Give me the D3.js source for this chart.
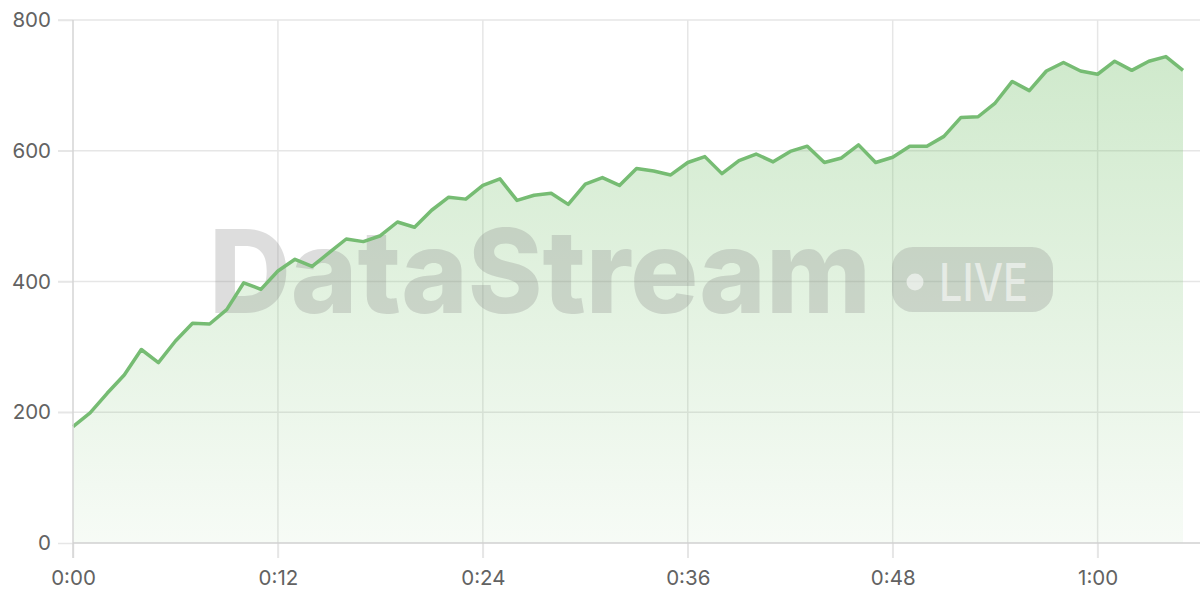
<!DOCTYPE html>
<html>
<head>
<meta charset="utf-8">
<script src="https://cdn.jsdelivr.net/npm/d3@7"></script>
<style>
  html, body { margin: 0; padding: 0; background: #fff; }
  svg { display: block; }
  .axis text { font-family: Inter, "Open Sans", sans-serif; font-size: 20.5px; fill: #626262; }
</style>
</head>
<body>
<div id="chart"></div>
<script>
// minutes since start
const minutes = d3.range(0, 66);
const values = [
  178, 199, 229, 257, 296, 276, 309, 336, 335, 357,
  398, 388, 416, 434, 423, 444, 465, 461, 470, 491,
  483, 509, 529, 526, 547, 557, 524, 532, 535, 518,
  549, 559, 547, 573, 569, 563, 582, 591, 565, 585,
  595, 583, 599, 607, 582, 589, 609, 582, 590, 607,
  607, 622, 651, 652, 673, 706, 692, 722, 735, 722,
  717, 737, 723, 737, 744, 723
];
const xTicks = [0, 12, 24, 36, 48, 60];
const yTicks = [0, 200, 400, 600, 800];

const width = 1200, height = 600;
const axesSpace = { left: 73, right: 1183, top: 20, bottom: 543 };

const data = minutes.map((m, i) => ({ m, v: values[i] }));

const x = d3.scaleLinear().domain([0, 65]).range([axesSpace.left, axesSpace.right]);
const y = d3.scaleLinear().domain([0, 800]).range([axesSpace.bottom, axesSpace.top]);

const svg = d3.select('#chart').append('svg')
  .attr('width', width)
  .attr('height', height);

const grad = svg.append('defs').append('linearGradient')
  .attr('id', 'fillGrad')
  .attr('gradientUnits', 'userSpaceOnUse')
  .attr('x1', 0).attr('x2', 0)
  .attr('y1', axesSpace.top).attr('y2', axesSpace.bottom);
grad.append('stop').attr('offset', 0).attr('stop-color', '#73bf69').attr('stop-opacity', 0.36);
grad.append('stop').attr('offset', 1).attr('stop-color', '#73bf69').attr('stop-opacity', 0.06);

// grid
svg.append('g').selectAll('line.h')
  .data(yTicks.slice(1))
  .enter().append('line')
  .attr('x1', axesSpace.left - 15).attr('x2', width)
  .attr('y1', d => y(d)).attr('y2', d => y(d))
  .attr('stroke', '#e6e6e6').attr('stroke-width', 1.5);

svg.append('g').selectAll('line.v')
  .data(xTicks.slice(1))
  .enter().append('line')
  .attr('x1', d => x(d)).attr('x2', d => x(d))
  .attr('y1', axesSpace.top).attr('y2', axesSpace.bottom + 15)
  .attr('stroke', '#e6e6e6').attr('stroke-width', 1.5);

// area + watermark + line
const area = d3.area()
  .x(d => x(d.m))
  .y0(y(0))
  .y1(d => y(d.v));

svg.append('path')
  .datum(data)
  .attr('d', area)
  .attr('fill', 'url(#fillGrad)');

const wm = svg.append('g');
wm.append('text')
  .attr('x', 209).attr('y', 313)
  .attr('textLength', 662)
  .attr('lengthAdjust', 'spacingAndGlyphs')
  .attr('font-family', 'Inter, "Open Sans", sans-serif')
  .attr('font-weight', 800)
  .attr('font-size', 116)
  .attr('fill', '#888')
  .attr('opacity', 0.28)
  .text('DataStream');

wm.append('rect')
  .attr('x', 892).attr('y', 247)
  .attr('width', 161).attr('height', 65)
  .attr('rx', 21)
  .attr('fill', '#888')
  .attr('opacity', 0.28);
wm.append('circle')
  .attr('cx', 915).attr('cy', 282).attr('r', 8.5)
  .attr('fill', '#fff').attr('opacity', 0.55);
wm.append('text')
  .attr('x', 939).attr('y', 301)
  .attr('textLength', 89)
  .attr('lengthAdjust', 'spacingAndGlyphs')
  .attr('font-family', 'Inter, "Open Sans", sans-serif')
  .attr('font-weight', 500)
  .attr('font-size', 52)
  .attr('fill', '#fff')
  .attr('opacity', 0.55)
  .text('LIVE');

svg.append('path')
  .datum(data)
  .attr('d', d3.line().x(d => x(d.m)).y(d => y(d.v)))
  .attr('fill', 'none')
  .attr('stroke', '#76bc73')
  .attr('stroke-width', 3.5)
  .attr('stroke-linejoin', 'round');

// axes
const xAxis = d3.axisBottom(x)
  .tickValues(xTicks)
  .tickSize(15)
  .tickPadding(12)
  .tickFormat(d => `${Math.floor(d / 60)}:${String(d % 60).padStart(2, '0')}`);

const yAxis = d3.axisLeft(y)
  .tickValues(yTicks)
  .tickSize(15)
  .tickPadding(7);

const gx = svg.append('g')
  .attr('class', 'axis')
  .attr('transform', `translate(0,${axesSpace.bottom})`)
  .call(xAxis);
gx.select('.domain').remove();
gx.selectAll('.tick line').attr('stroke', '#e6e6e6').attr('stroke-width', 1.5);

const gy = svg.append('g')
  .attr('class', 'axis')
  .attr('transform', `translate(${axesSpace.left},0)`)
  .call(yAxis);
gy.select('.domain').remove();
gy.selectAll('.tick line').attr('stroke', '#e6e6e6').attr('stroke-width', 1.5);

svg.append('line')
  .attr('x1', axesSpace.left).attr('x2', axesSpace.left)
  .attr('y1', axesSpace.top).attr('y2', axesSpace.bottom + 15)
  .attr('stroke', '#d4d4d4').attr('stroke-width', 1.5);
svg.append('line')
  .attr('x1', axesSpace.left).attr('x2', width)
  .attr('y1', axesSpace.bottom).attr('y2', axesSpace.bottom)
  .attr('stroke', '#d0d0d0').attr('stroke-width', 1.5);
</script>
</body>
</html>
